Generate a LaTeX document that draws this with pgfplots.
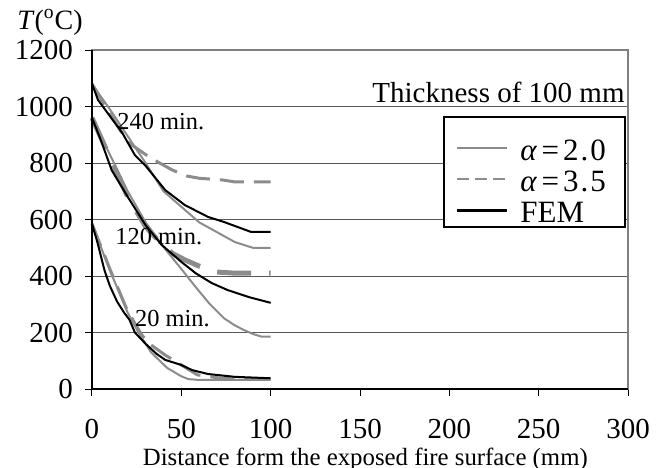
\documentclass[border=0pt]{standalone}
\usepackage{fontspec}
\setmainfont{Liberation Serif}
\usepackage{pgfplots}
\pgfplotsset{compat=1.18}
\pgfplotsset{
  a2/.style={color=gray!90, line width=1bp},
  a35/.style={color=gray!90, line width=1.5bp, dash pattern=on 12bp off 5bp},
  a35t/.style={color=gray!90, line width=2.5bp, dash pattern=on 17bp off 9bp},
  fem/.style={color=black, line width=1bp},
}
\newcommand{\lgval}[1]{{\itshape α}\hspace{2.5bp}=\hspace{2bp}#1}
\begin{document}
\begin{tikzpicture}
\path[use as bounding box] (-46bp,-39.5bp) rectangle (287.5bp,194.5bp);
\begin{axis}[
  scale only axis, width=268bp, height=169.5bp,
  xmin=0, xmax=300, ymin=0, ymax=1200,
  xtick={0,50,...,300}, ytick={0,200,...,1200},
  tick align=outside, xtick pos=bottom, ytick pos=left,
  major tick length=3.5bp,
  tick style={black, line width=0.5bp},
  ymajorgrids, grid style={gray!70!black, line width=0.5bp},
  axis line style={gray, line width=0.75bp},
  clip=false,
  /pgf/number format/assume math mode=true,
  /pgf/number format/1000 sep={},
  ticklabel style={font=\fontsize{14.5bp}{17bp}\selectfont},
  yticklabel style={xshift=-2.5bp},
  xticklabel style={yshift=-8bp},
  xlabel={Distance form the exposed fire surface (mm)},
  xlabel style={font=\fontsize{12.4bp}{14bp}\selectfont, anchor=base, at={(axis description cs:0.51,0)}, yshift=-38bp},
  legend style={at={(0.996,0.806)}, anchor=north east, draw=black, line width=1bp,
    font=\fontsize{15.5bp}{18bp}\selectfont, inner xsep=6bp, inner ysep=0.5bp, row sep=0bp,
    nodes={inner ysep=0bp, inner xsep=0bp},
    /tikz/column 1/.style={column sep=6bp}},
  legend cell align=left,
  legend image code/.code={\draw[#1] (0bp,0bp) -- (25bp,0bp);},
]
\addlegendimage{a2, yshift=-3.5bp}\addlegendentry{\rule[-3.76bp]{0pt}{25bp}\lgval{2\kern1bp.\kern1bp0}\rule{3.5bp}{0pt}}
\addlegendimage{color=gray!90, line width=1bp, dash pattern=on 6bp off 3bp}\addlegendentry{\rule[-3.76bp]{0pt}{18bp}\lgval{3\kern1bp.\kern1bp5}\rule{3.5bp}{0pt}}
\addlegendimage{fem, line width=1.25bp}\addlegendentry{\rule[-3.9bp]{0pt}{18bp}FEM}

% 240 min
\addplot[a35, forget plot] coordinates {(0,1080)(10,975)(20,874)(30,830)(37,803)(45,775)(53,754)(60,746)(73,740)(80,733)(100,733)};
\addplot[a2, forget plot] coordinates {(0,1080)(10,990)(20,895)(30,800)(40,700)(50,645)(60,590)(70,555)(80,520)(90,500)(100,500)};
\addplot[fem, forget plot] coordinates {(0,1080)(3.4,1023)(10,966)(17,906)(24,828)(30,790)(41,704)(52,651)(65,609)(74,591)(89,556)(100,556)};

% 120 min
\addplot[a35t, forget plot] coordinates {(0,960)(10,820)(20,680)(30,575)(35,540)(45,480)(52,457)(60,435)(70,414)(80,410)(100,410)};
\addplot[a2, forget plot] coordinates {(0,960)(10,830)(20,700)(30,590)(40,503)(50,425)(58,361)(66,300)(74,250)(80,225)(85,209)(90,195)(95,185)(100,185)};
\addplot[fem, forget plot] coordinates {(0,960)(5,880)(11,775)(20,680)(30,580)(39,510)(50,450)(58,410)(67,375)(76,350)(88,325)(100,305)};

% 20 min
\addplot[a35, forget plot] coordinates {(0,585)(10,425)(20,275)(28,190)(33,156)(41,120)(50,85)(59,50)(70,40)(80,35)(100,35)};
\addplot[a2, forget plot] coordinates {(0,585)(10,420)(20,270)(26,200)(33,130)(42,75)(50,45)(54,35)(60,32)(100,32)};
\addplot[fem, forget plot] coordinates {(0,585)(3,520)(7,420)(10,365)(14,310)(18,270)(21,245)(24,200)(30,160)(36,125)(41,103)(50,85)(56,67)(65,53)(80,43)(100,38)};

\draw[black, line width=0.75bp] (rel axis cs:0,1) -- (rel axis cs:0,0) -- (rel axis cs:1,0);

\node[font=\fontsize{12.2bp}{14bp}\selectfont] at (axis cs:38.5,945) {240 min.};
\node[font=\fontsize{12.2bp}{14bp}\selectfont] at (axis cs:37.4,538) {120 min.};
\node[font=\fontsize{12.2bp}{14bp}\selectfont] at (axis cs:45,251) {20 min.};
\node[font=\fontsize{14.5bp}{17bp}\selectfont, anchor=east, inner sep=0pt] at (axis cs:298.3,1051) {Thickness of 100 mm};
\node[font=\fontsize{14bp}{17bp}\selectfont, anchor=base west, inner sep=0pt] at ([xshift=-37.5bp,yshift=10.5bp]rel axis cs:0,1) {\textit{T}(\textsuperscript{o}C)};
\end{axis}
\end{tikzpicture}
\end{document}
